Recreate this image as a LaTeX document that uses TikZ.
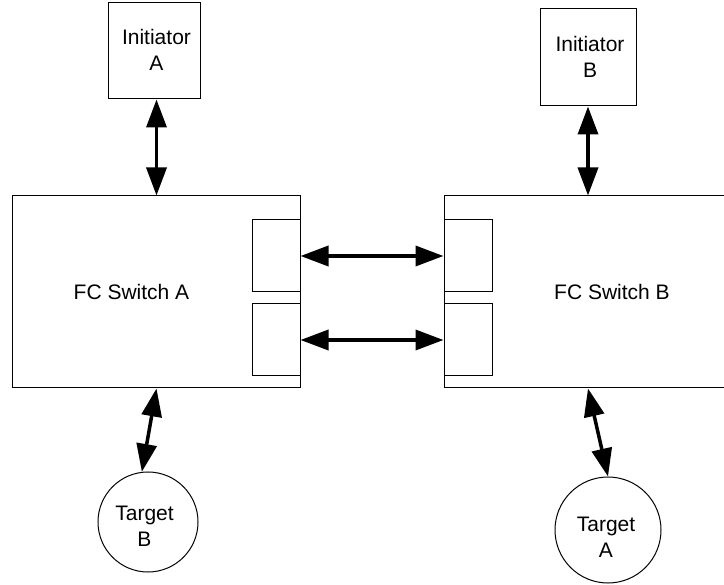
\documentclass[tikz,border=0pt]{standalone}
\usepackage{fontspec}
\setmainfont{Liberation Sans}
\usetikzlibrary{arrows.meta,calc}

\begin{document}
\begin{tikzpicture}[x=1pt,y=-1pt,
  every node/.style={font=\fontsize{21}{26}\selectfont, align=center},
  box/.style={draw, line width=1pt, inner sep=0pt},
  port/.style={box, minimum width=48pt, minimum height=72pt},
  target/.style={draw, circle, line width=1pt, inner sep=0pt},
  link/.style={line width=3.5pt,
    {Triangle[length=28pt,width=20pt]}-{Triangle[length=28pt,width=20pt]}}]
  \useasboundingbox (0,0) rectangle (724,585);

  % end nodes
  \node[box, minimum width=92pt, minimum height=96pt] (iniA) at (154,51) {};
  \node at (156.5,50) {Initiator\\A};
  \node[box, minimum width=96pt, minimum height=97pt] (iniB) at (588,57.5) {};
  \node at (590,57) {Initiator\\B};

  % switches
  \node[box, minimum width=288pt, minimum height=192pt] (swA) at (156.5,292) {};
  \node at (131.5,292) {FC Switch A};
  \node[box, minimum width=280pt, minimum height=192pt] (swB) at (584,292) {};
  \node at (612,292) {FC Switch B};

  % inter-switch ports
  \node[port] (pA1) at (276,256) {};
  \node[port] (pA2) at (276,340) {};
  \node[port] (pB1) at (468,256) {};
  \node[port] (pB2) at (468,340) {};

  % targets
  \node[target, minimum size=100pt] (tgtB) at (148,522) {};
  \node at (144.5,526) {Target\\B};
  \node[target, minimum size=106pt] (tgtA) at (608,530) {};
  \node at (606,537) {Target\\A};

  % links
  \draw[link] (iniA.south -| swA.north) -- (swA.north);
  \draw[link] (iniB.south) -- (iniB.south |- swB.north);
  \draw[link] (pA1.east) -- (pB1.west);
  \draw[link] (pA2.east) -- (pB2.west);
  \draw[link] (swA.south) -- (tgtB.97);
  \draw[link] ($(swB.south)+(4,0)$) -- (tgtA.north);
\end{tikzpicture}
\end{document}
